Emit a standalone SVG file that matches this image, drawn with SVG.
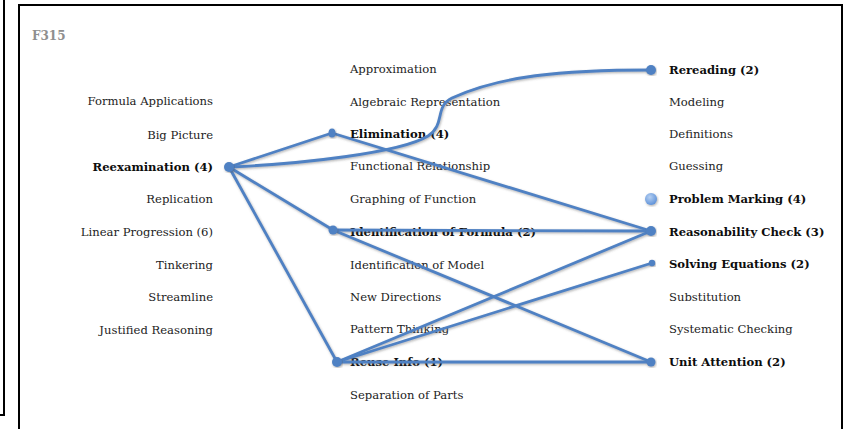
<svg xmlns="http://www.w3.org/2000/svg" width="852" height="429" viewBox="0 0 852 429">
  <style>
    .lbl { font-family: "DejaVu Serif", "Liberation Serif", serif; font-size: 11.6px; fill: #222; }
    .b { font-weight: bold; fill: #0d0d0d; }
    .end { text-anchor: end; }
    .edge { fill: none; stroke: #4f81c3; stroke-width: 2.8; stroke-linecap: round; }
    .dot { fill: #4f81c3; }
  </style>
  <defs>
    <filter id="shadow" x="-10%" y="-10%" width="120%" height="120%">
      <feDropShadow dx="0.8" dy="1.2" stdDeviation="0.8" flood-color="#555" flood-opacity="0.45"/>
    </filter>
    <radialGradient id="softDot" cx="40%" cy="35%" r="70%">
      <stop offset="0" stop-color="#b6d0f2"/>
      <stop offset="1" stop-color="#5a8fd8"/>
    </radialGradient>
  </defs>

  <rect width="852" height="429" fill="#fff"/>

  <!-- frames -->
  <path d="M4,0 V415 H0" fill="none" stroke="#000" stroke-width="2"/>
  <rect x="19" y="5" width="823" height="440" fill="none" stroke="#000" stroke-width="2"/>

  <text x="32" y="40" style="font-family:'DejaVu Serif','Liberation Serif',serif;font-size:12px;font-weight:bold;fill:#8f8f8f">F315</text>

  <!-- left column -->
  <g id="col-left">
    <text class="lbl end" x="213" y="105">Formula Applications</text>
    <text class="lbl end" x="213" y="139">Big Picture</text>
    <text class="lbl b end" x="213" y="171">Reexamination (4)</text>
    <text class="lbl end" x="213" y="203">Replication</text>
    <text class="lbl end" x="213" y="236">Linear Progression (6)</text>
    <text class="lbl end" x="213" y="269">Tinkering</text>
    <text class="lbl end" x="213" y="301">Streamline</text>
    <text class="lbl end" x="213" y="334">Justified Reasoning</text>
  </g>

  <!-- middle column -->
  <g id="col-mid">
    <text class="lbl" x="350" y="73">Approximation</text>
    <text class="lbl" x="350" y="106">Algebraic Representation</text>
    <text class="lbl b" x="350" y="138">Elimination (4)</text>
    <text class="lbl" x="350" y="170">Functional Relationship</text>
    <text class="lbl" x="350" y="203">Graphing of Function</text>
    <text class="lbl b" x="350" y="236">Identification of Formula (2)</text>
    <text class="lbl" x="350" y="269">Identification of Model</text>
    <text class="lbl" x="350" y="301">New Directions</text>
    <text class="lbl" x="350" y="333">Pattern Thinking</text>
    <text class="lbl b" x="350" y="366">Reuse Info (1)</text>
    <text class="lbl" x="350" y="399">Separation of Parts</text>
  </g>

  <!-- right column -->
  <g id="col-right">
    <text class="lbl b" x="669" y="74">Rereading (2)</text>
    <text class="lbl" x="669" y="106">Modeling</text>
    <text class="lbl" x="669" y="138">Definitions</text>
    <text class="lbl" x="669" y="170">Guessing</text>
    <text class="lbl b" x="669" y="203">Problem Marking (4)</text>
    <text class="lbl b" x="669" y="236">Reasonability Check (3)</text>
    <text class="lbl b" x="669" y="268">Solving Equations (2)</text>
    <text class="lbl" x="669" y="301">Substitution</text>
    <text class="lbl" x="669" y="333">Systematic Checking</text>
    <text class="lbl b" x="669" y="366">Unit Attention (2)</text>
  </g>

  <!-- connectors -->
  <g id="connectors" filter="url(#shadow)">
    <path class="edge" d="M229,167 L332,133"/>
    <path class="edge" d="M229,167 C300,164 400,153 428,136 C446,124 434,107 452,98 C500,76 560,70 651,70"/>
    <path class="edge" d="M229,167 L333,230"/>
    <path class="edge" d="M229,167 L337,362"/>
    <path class="edge" d="M332,133 L651,231"/>
    <path class="edge" d="M333,230 L651,231"/>
    <path class="edge" d="M333,230 L651,362"/>
    <path class="edge" d="M337,362 L651,231"/>
    <path class="edge" d="M337,362 L652,263"/>
    <path class="edge" d="M337,362 L651,362"/>
  </g>

  <!-- node markers -->
  <g id="node-reexamination" filter="url(#shadow)"><circle class="dot" cx="229" cy="167" r="5"/></g>
  <g id="node-elimination" filter="url(#shadow)"><ellipse class="dot" cx="332" cy="133" rx="3.5" ry="4.5"/></g>
  <g id="node-identification-formula" filter="url(#shadow)"><circle class="dot" cx="333" cy="230" r="4.5"/></g>
  <g id="node-reuse-info" filter="url(#shadow)"><circle class="dot" cx="337" cy="362" r="5"/></g>
  <g id="node-rereading" filter="url(#shadow)"><circle class="dot" cx="651" cy="70" r="5"/></g>
  <g id="node-problem-marking" filter="url(#shadow)"><circle cx="651" cy="199" r="6" fill="url(#softDot)"/></g>
  <g id="node-reasonability" filter="url(#shadow)"><circle class="dot" cx="651" cy="231" r="5"/></g>
  <g id="node-solving-equations" filter="url(#shadow)"><circle class="dot" cx="652" cy="263" r="3.2"/></g>
  <g id="node-unit-attention" filter="url(#shadow)"><circle class="dot" cx="651" cy="362" r="4.5"/></g>
</svg>
